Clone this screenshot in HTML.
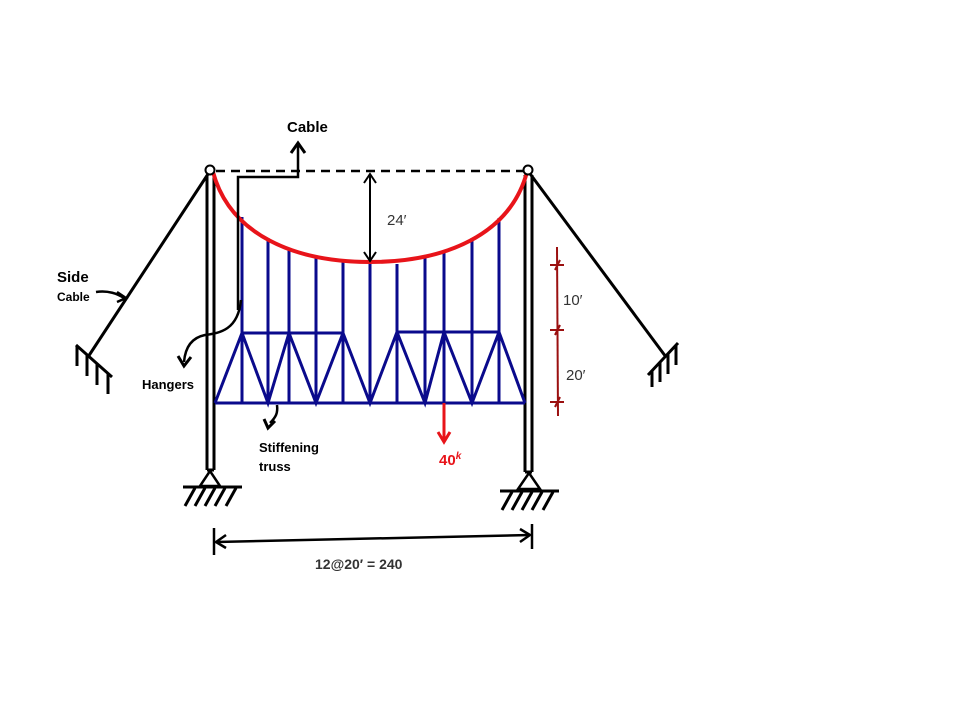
<!DOCTYPE html>
<html><head><style>
html,body{margin:0;padding:0;background:#fff;}
svg{display:block;}
text{font-family:"Liberation Sans",sans-serif;}
</style></head><body>
<svg width="960" height="720" viewBox="0 0 960 720" xmlns="http://www.w3.org/2000/svg">
<line x1="210" y1="171" x2="88" y2="357" stroke="#000" stroke-width="3"/>
<line x1="528" y1="171" x2="666" y2="357" stroke="#000" stroke-width="3"/>
<g stroke="#000" stroke-width="3">
<line x1="76" y1="345" x2="112" y2="377"/>
<line x1="77" y1="346" x2="77" y2="366"/>
<line x1="87" y1="355" x2="87" y2="376"/>
<line x1="97" y1="364" x2="97" y2="385"/>
<line x1="108" y1="373" x2="108" y2="394"/>
<line x1="648" y1="375" x2="678" y2="343"/>
<line x1="652" y1="371" x2="652" y2="387"/>
<line x1="660" y1="362" x2="660" y2="382"/>
<line x1="668" y1="354" x2="668" y2="374"/>
<line x1="676" y1="346" x2="676" y2="365"/>
</g>
<g stroke="#000" stroke-width="3" fill="none">
<line x1="207" y1="175" x2="207" y2="470"/><line x1="214" y1="175" x2="214" y2="470"/><line x1="207" y1="470" x2="214" y2="470"/>
<line x1="525" y1="175" x2="525" y2="472"/><line x1="532" y1="175" x2="532" y2="472"/><line x1="525" y1="472" x2="532" y2="472"/>
<path d="M210,471 L200,486 L220,486 Z" stroke-width="2.5"/>
<line x1="183" y1="487" x2="242" y2="487"/>
<line x1="195" y1="488" x2="185" y2="506"/><line x1="205" y1="488" x2="195" y2="506"/><line x1="215" y1="488" x2="205" y2="506"/><line x1="225" y1="488" x2="215" y2="506"/><line x1="236" y1="488" x2="226" y2="506"/>
<path d="M529,473 L518,489 L540,489 Z" stroke-width="2.5"/>
<line x1="500" y1="491" x2="559" y2="491"/>
<line x1="512" y1="492" x2="502" y2="510"/><line x1="522" y1="492" x2="512" y2="510"/><line x1="532" y1="492" x2="522" y2="510"/><line x1="542" y1="492" x2="532" y2="510"/><line x1="553" y1="492" x2="543" y2="510"/>
</g>
<line x1="216" y1="171" x2="524" y2="171" stroke="#000" stroke-width="2.5" stroke-dasharray="9,6"/>
<g stroke="#0a0a8c" stroke-width="3" fill="none">
<line x1="242" y1="217" x2="242" y2="403"/>
<line x1="268" y1="238" x2="268" y2="403"/>
<line x1="289" y1="248" x2="289" y2="403"/>
<line x1="316" y1="256" x2="316" y2="403"/>
<line x1="343" y1="260" x2="343" y2="403"/>
<line x1="370" y1="262" x2="370" y2="403"/>
<line x1="397" y1="264" x2="397" y2="403"/>
<line x1="425" y1="258" x2="425" y2="403"/>
<line x1="444" y1="251" x2="444" y2="403"/>
<line x1="472" y1="238" x2="472" y2="403"/>
<line x1="499" y1="218" x2="499" y2="403"/>
<line x1="242" y1="333" x2="343" y2="333"/>
<line x1="397" y1="332" x2="499" y2="332"/>
<line x1="215" y1="403" x2="370" y2="403"/>
<line x1="370" y1="403" x2="525" y2="403"/>
<polyline points="215,403 242,333 268,403 289,333 316,403 343,333 370,403 397,332 425,403 444,332 472,403 499,332 525,403"/>
</g>
<path d="M213,172 C230,235 295,262 370,262 C445,262 510,235 527,172" stroke="#e8141a" stroke-width="4" fill="none"/>
<circle cx="210" cy="170" r="4.5" fill="#fff" stroke="#000" stroke-width="2"/>
<circle cx="528" cy="170" r="4.5" fill="#fff" stroke="#000" stroke-width="2"/>
<line x1="370" y1="176" x2="370" y2="259" stroke="#000" stroke-width="2"/>
<path d="M364,183 L370,174 L376,183 M364,252 L370,261 L376,252" stroke="#000" stroke-width="2" fill="none"/>
<text x="387" y="225" font-family="Liberation Serif" font-size="15" fill="#333">24′</text>
<polyline points="238,310 238,177 298,177 298,145" stroke="#000" stroke-width="2.5" fill="none"/>
<path d="M291,153 L298,143 L305,153" stroke="#000" stroke-width="3" fill="none"/>
<text x="287" y="132" font-size="15" font-weight="bold">Cable</text>
<path d="M241,300 C238,330 220,333 205,335 C190,338 185,350 184,362" stroke="#000" stroke-width="2.5" fill="none"/>
<path d="M178,356 L184,366 L191,357" stroke="#000" stroke-width="3" fill="none"/>
<text x="142" y="389" font-size="13" font-weight="bold">Hangers</text>
<text x="57" y="282" font-size="15" font-weight="bold">Side</text>
<text x="57" y="301" font-size="12" font-weight="bold">Cable</text>
<path d="M96,292 C108,290 118,294 124,298" stroke="#000" stroke-width="2.5" fill="none"/>
<path d="M117,292 L126,298 L117,302" stroke="#000" stroke-width="2.5" fill="none"/>
<path d="M277,405 C278,413 276,417 270,423" stroke="#000" stroke-width="2.5" fill="none"/>
<path d="M264,419 L268,428 L275,421" stroke="#000" stroke-width="3" fill="none"/>
<text x="259" y="452" font-size="13" font-weight="bold">Stiffening</text>
<text x="259" y="471" font-size="13" font-weight="bold">truss</text>
<line x1="444" y1="403" x2="444" y2="440" stroke="#e8141a" stroke-width="3"/>
<path d="M438,432 L444,442 L450,432" stroke="#e8141a" stroke-width="3" fill="none"/>
<text x="439" y="465" font-family="Liberation Serif" font-size="15" font-weight="bold" fill="#e8141a">40<tspan font-size="10" dy="-6" font-style="italic">k</tspan></text>
<g stroke="#9b1010" stroke-width="2">
<line x1="557" y1="247" x2="558" y2="416"/>
<line x1="550" y1="265" x2="564" y2="265"/><line x1="555" y1="270" x2="560" y2="260"/>
<line x1="550" y1="330" x2="564" y2="330"/><line x1="555" y1="335" x2="560" y2="325"/>
<line x1="550" y1="402" x2="564" y2="402"/><line x1="555" y1="407" x2="560" y2="397"/>
</g>
<text x="563" y="305" font-family="Liberation Serif" font-size="15" fill="#333">10′</text>
<text x="566" y="380" font-family="Liberation Serif" font-size="15" fill="#333">20′</text>
<g stroke="#000" stroke-width="2.5" fill="none">
<line x1="214" y1="528" x2="214" y2="555"/>
<line x1="532" y1="524" x2="532" y2="549"/>
<line x1="216" y1="542" x2="530" y2="535"/>
<path d="M226,535 L216,542 L226,548 M520,529 L530,535 L520,542"/>
</g>
<text x="315" y="569" font-family="Liberation Serif" font-size="14" font-weight="bold" fill="#333">12@20′ = 240</text>
</svg>
</body></html>
